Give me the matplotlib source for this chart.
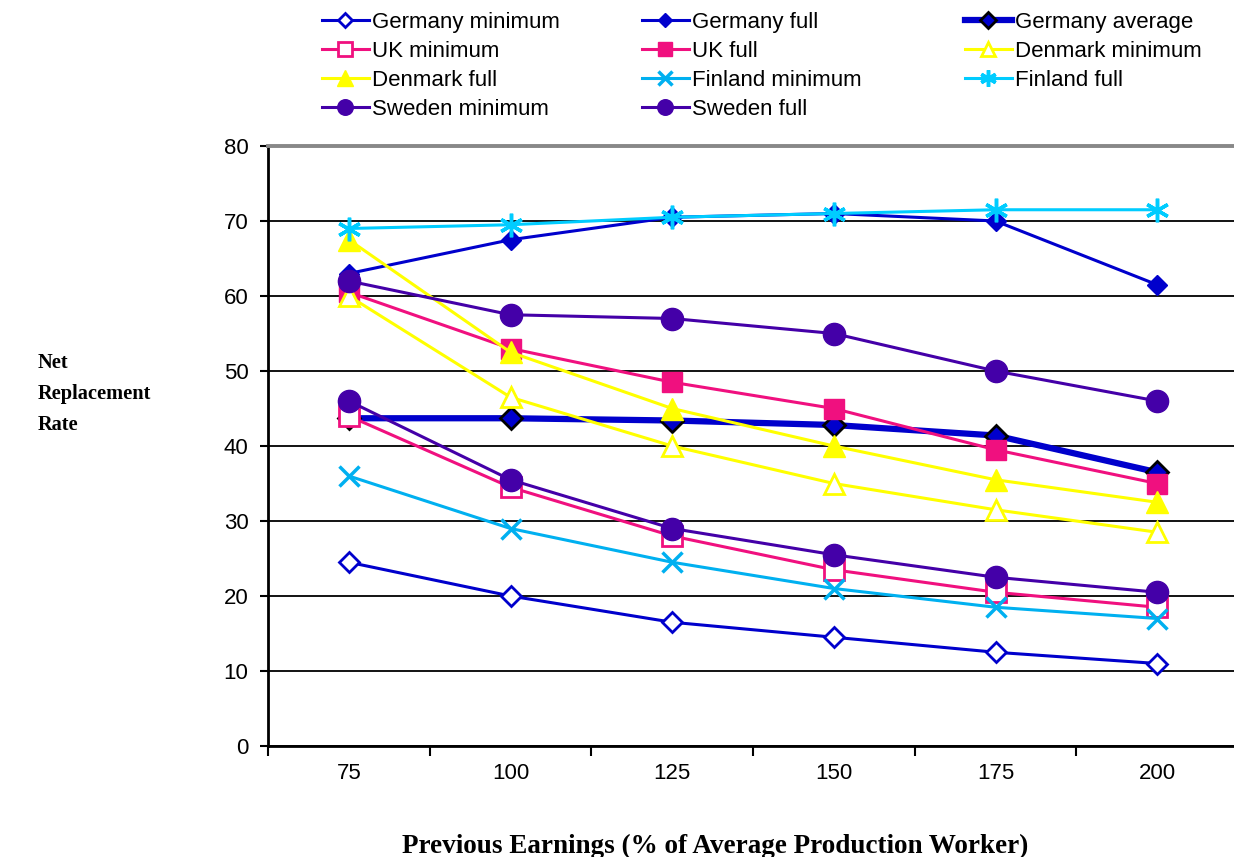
import matplotlib.pyplot as plt
import numpy as np

# 净替代率数据
earnings = ["75", "100", "125", "150", "175", "200"]

germany_min = [24.5, 20, 16.5, 14.5, 12.5, 11]
germany_full = [63, 67.5, 70.5, 71, 70, 61.5]
germany_avg = [43.7, 43.7, 43.4, 42.8, 41.4, 36.5]
uk_min = [44, 34.5, 28, 23.5, 20.5, 18.5]
uk_full = [60.5, 53, 48.5, 45, 39.5, 35]
denmark_min = [60, 46.5, 40, 35, 31.5, 28.5]
denmark_full = [67.5, 52.5, 45, 40, 35.5, 32.5]
finland_min = [36, 29, 24.5, 21, 18.5, 17]
finland_full = [69, 69.5, 70.5, 71, 71.5, 71.5]
sweden_min = [46, 35.5, 29, 25.5, 22.5, 20.5]
sweden_full = [62, 57.5, 57, 55, 50, 46]

BLUE = "#0000cc"
PINK = "#f0107f"
YELLOW = "#ffff00"
SKY = "#00b0f0"
CYAN = "#00ccff"
PURPLE = "#4400a8"

plt.rcParams["font.family"] = ["Liberation Sans", "DejaVu Sans"]

fig = plt.figure(figsize=(12.34, 8.57), dpi=100)
ax = fig.add_axes([268 / 1234, 111 / 857, 970 / 1234, 600 / 857])

x = np.arange(len(earnings))
lw = 2.2
series = [
    ("Germany minimum", germany_min, dict(color=BLUE, marker="D", ms=10, mfc="white", mec=BLUE, mew=2)),
    ("Germany full", germany_full, dict(color=BLUE, marker="D", ms=10, mfc=BLUE, mec=BLUE)),
    ("Germany average", germany_avg, dict(color=BLUE, lw=4.5, marker="D", ms=11, mfc=BLUE, mec="black", mew=2)),
    ("UK minimum", uk_min, dict(color=PINK, marker="s", ms=14, mfc="white", mec=PINK, mew=2)),
    ("UK full", uk_full, dict(color=PINK, marker="s", ms=14, mfc=PINK, mec=PINK)),
    ("Denmark minimum", denmark_min, dict(color=YELLOW, marker="^", ms=15, mfc="white", mec=YELLOW, mew=2)),
    ("Denmark full", denmark_full, dict(color=YELLOW, marker="^", ms=16, mfc=YELLOW, mec=YELLOW)),
    ("Finland minimum", finland_min, dict(color=SKY, marker="x", ms=14, mew=2.5)),
    ("Finland full", finland_full, dict(color=CYAN, marker=(6, 2, 0), ms=17, mew=2.5)),
    ("Sweden minimum", sweden_min, dict(color=PURPLE, marker="o", ms=16, mfc=PURPLE, mec=PURPLE)),
    ("Sweden full", sweden_full, dict(color=PURPLE, marker="o", ms=16, mfc=PURPLE, mec=PURPLE)),
]

handles = []
for label, vals, style in series:
    style.setdefault("lw", lw)
    h, = ax.plot(x, vals, label=label, clip_on=False, **style)
    handles.append(h)

ax.set_xlim(-0.5, len(earnings) - 0.5)
ax.set_ylim(0, 80)
ax.set_yticks(np.arange(0, 81, 10))
ax.set_xticks(x)
ax.set_xticklabels(earnings)
ax.set_xticks(np.arange(-0.5, len(earnings)), minor=True)
ax.tick_params(axis="x", which="major", length=0, pad=12, labelsize=16)
ax.tick_params(axis="x", which="minor", direction="out", length=7, width=1.5)
ax.tick_params(axis="y", direction="out", length=6, width=1.5, pad=8, labelsize=16)

ax.grid(axis="y", color="black", lw=1.3)
ax.spines["right"].set_visible(False)
ax.spines["left"].set_linewidth(2)
ax.spines["bottom"].set_linewidth(2)
ax.spines["top"].set_color("#888888")
ax.spines["top"].set_linewidth(2.8)

# 图例: 三列, 每列单独放置
columns = [[0, 3, 6, 9], [1, 4, 7, 10], [2, 5, 8]]
col_x = [322, 642, 965]
for idx, cx in zip(columns, col_x):
    leg = fig.legend([handles[i] for i in idx], [series[i][0] for i in idx],
                     loc="upper left", bbox_to_anchor=(cx / 1234, 1 - 12 / 857),
                     frameon=False, fontsize=16, handlelength=2.1, handletextpad=0.15,
                     borderpad=0, borderaxespad=0, labelspacing=0.36, markerscale=0.7)

fig.text(38 / 1234, 1 - 394 / 857, "Net\nReplacement\nRate", ha="left", va="center",
         fontsize=14.7, fontweight="bold", family="Liberation Serif", linespacing=1.75)
fig.text(715 / 1234, 1 - 853 / 857, "Previous Earnings (% of Average Production Worker)",
         ha="center", va="baseline", fontsize=19.5, fontweight="bold", family="Liberation Serif")

fig.savefig("out.png", dpi=100)
